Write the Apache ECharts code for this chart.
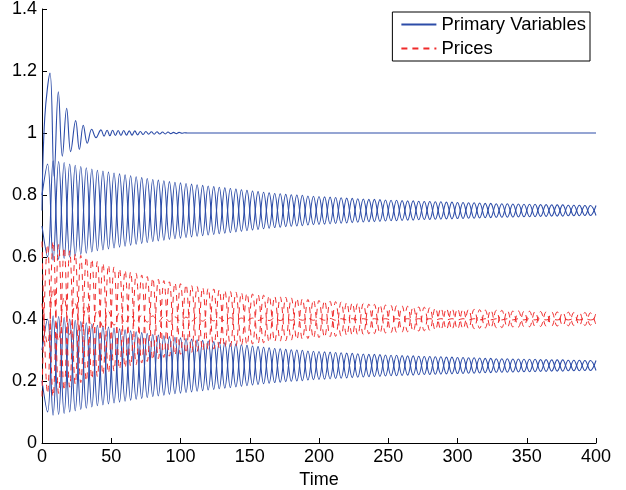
<!DOCTYPE html>
<html>
<head>
<meta charset="utf-8">
<script src="https://cdn.jsdelivr.net/npm/echarts@6/dist/echarts.min.js"></script>
<style>
  html, body { margin: 0; padding: 0; background: #fff; }
  #chart { width: 626px; height: 490px; }
</style>
</head>
<body>
<div id="chart"></div>
<script>
// sample spacing (time units) of the oscillating series
const STEP = 4;

// first primary variable, settles at 1
const b1Time = [0, 2, 5.8, 8.7, 11.8, 14.7, 17.8, 20.7, 24.3, 27, 29.8, 32.7, 35.9, 39, 42.6, 44.8,
  47, 49, 51, 53, 55, 57, 59, 61, 63, 65, 67, 69, 71, 73, 75, 77, 79, 81, 83, 85, 87, 89, 91, 93,
  95, 97, 99, 101, 103, 105, 120, 160, 200, 250, 300, 350, 400];
const b1Vals = [0.75, 1.05, 1.193, 0.86, 1.133, 0.925, 1.080, 0.94, 1.040, 0.947, 1.025, 0.967, 1.012, 0.985, 1.010, 0.990,
  1.009, 0.991, 1.009, 0.992, 1.008, 0.992, 1.008, 0.993, 1.007, 0.993, 1.007, 0.994, 1.005, 0.995, 1.005, 0.996, 1.004, 0.996, 1.004, 0.997, 1.003, 0.997, 1.003, 0.998,
  1.002, 0.998, 1.002, 0.999, 1.001, 1.0, 1.0, 1.0, 1.0, 1.0, 1.0, 1.0, 1.0];

// primary variables around 0.75
const topA = [0.70,
  0.600, 0.910, 0.592, 0.905, 0.600, 0.896, 0.608, 0.888, 0.616, 0.880,
  0.623, 0.874, 0.629, 0.868, 0.635, 0.862, 0.641, 0.856, 0.647, 0.850,
  0.652, 0.846, 0.657, 0.841, 0.661, 0.837, 0.665, 0.833, 0.669, 0.829,
  0.673, 0.825, 0.677, 0.821, 0.681, 0.817, 0.685, 0.813, 0.689, 0.809,
  0.693, 0.805, 0.696, 0.802, 0.699, 0.800, 0.701, 0.797, 0.704, 0.795,
  0.706, 0.793, 0.708, 0.791, 0.710, 0.789, 0.712, 0.787, 0.714, 0.786,
  0.715, 0.784, 0.717, 0.783, 0.718, 0.781, 0.719, 0.780, 0.721, 0.779,
  0.722, 0.778, 0.723, 0.777, 0.724, 0.776, 0.725, 0.775, 0.726, 0.773,
  0.727, 0.772, 0.728, 0.772, 0.729, 0.771, 0.730, 0.770, 0.730, 0.769,
  0.731, 0.768, 0.732, 0.768, 0.733, 0.767, 0.733, 0.766, 0.734, 0.766];
const topB = [0.80,
  0.900, 0.590, 0.908, 0.595, 0.900, 0.604, 0.892, 0.612, 0.884, 0.620,
  0.877, 0.626, 0.871, 0.632, 0.865, 0.638, 0.859, 0.644, 0.853, 0.650,
  0.848, 0.654, 0.843, 0.659, 0.839, 0.663, 0.835, 0.667, 0.831, 0.671,
  0.827, 0.675, 0.823, 0.679, 0.819, 0.683, 0.815, 0.687, 0.811, 0.691,
  0.807, 0.695, 0.804, 0.698, 0.801, 0.700, 0.799, 0.703, 0.796, 0.705,
  0.794, 0.707, 0.792, 0.709, 0.790, 0.711, 0.788, 0.713, 0.786, 0.714,
  0.785, 0.716, 0.783, 0.717, 0.782, 0.719, 0.781, 0.720, 0.779, 0.721,
  0.778, 0.722, 0.777, 0.723, 0.776, 0.724, 0.775, 0.725, 0.774, 0.727,
  0.773, 0.728, 0.772, 0.728, 0.771, 0.729, 0.770, 0.730, 0.770, 0.731,
  0.769, 0.732, 0.768, 0.732, 0.767, 0.733, 0.767, 0.734, 0.766, 0.734];

// primary variables around 0.25
const botA = [0.20,
  0.100, 0.410, 0.092, 0.405, 0.100, 0.396, 0.108, 0.388, 0.116, 0.380,
  0.123, 0.374, 0.129, 0.368, 0.135, 0.362, 0.141, 0.356, 0.147, 0.350,
  0.152, 0.346, 0.157, 0.341, 0.161, 0.337, 0.165, 0.333, 0.169, 0.329,
  0.173, 0.325, 0.177, 0.321, 0.181, 0.317, 0.185, 0.313, 0.189, 0.309,
  0.193, 0.305, 0.196, 0.302, 0.199, 0.300, 0.201, 0.297, 0.204, 0.295,
  0.206, 0.293, 0.208, 0.291, 0.210, 0.289, 0.212, 0.287, 0.214, 0.286,
  0.215, 0.284, 0.217, 0.283, 0.218, 0.281, 0.219, 0.280, 0.221, 0.279,
  0.222, 0.278, 0.223, 0.277, 0.224, 0.276, 0.225, 0.275, 0.226, 0.273,
  0.227, 0.272, 0.228, 0.272, 0.229, 0.271, 0.230, 0.270, 0.230, 0.269,
  0.231, 0.268, 0.232, 0.268, 0.233, 0.267, 0.233, 0.266, 0.234, 0.266];
const botB = [0.30,
  0.400, 0.090, 0.408, 0.095, 0.400, 0.104, 0.392, 0.112, 0.384, 0.120,
  0.377, 0.126, 0.371, 0.132, 0.365, 0.138, 0.359, 0.144, 0.353, 0.150,
  0.348, 0.154, 0.343, 0.159, 0.339, 0.163, 0.335, 0.167, 0.331, 0.171,
  0.327, 0.175, 0.323, 0.179, 0.319, 0.183, 0.315, 0.187, 0.311, 0.191,
  0.307, 0.195, 0.304, 0.198, 0.301, 0.200, 0.299, 0.203, 0.296, 0.205,
  0.294, 0.207, 0.292, 0.209, 0.290, 0.211, 0.288, 0.213, 0.286, 0.214,
  0.285, 0.216, 0.283, 0.217, 0.282, 0.219, 0.281, 0.220, 0.279, 0.221,
  0.278, 0.222, 0.277, 0.223, 0.276, 0.224, 0.275, 0.225, 0.274, 0.227,
  0.273, 0.228, 0.272, 0.228, 0.271, 0.229, 0.270, 0.230, 0.270, 0.231,
  0.269, 0.232, 0.268, 0.232, 0.267, 0.233, 0.267, 0.234, 0.266, 0.234];

// prices around 0.4
const redA = [0.15,
  0.640, 0.150, 0.640, 0.170, 0.620, 0.190, 0.605, 0.200, 0.593, 0.214,
  0.580, 0.226, 0.568, 0.238, 0.557, 0.248, 0.547, 0.258, 0.537, 0.268,
  0.528, 0.276, 0.520, 0.283, 0.514, 0.289, 0.508, 0.295, 0.502, 0.301,
  0.497, 0.306, 0.492, 0.311, 0.487, 0.315, 0.483, 0.319, 0.479, 0.323,
  0.475, 0.327, 0.471, 0.330, 0.468, 0.334, 0.465, 0.337, 0.462, 0.340,
  0.459, 0.343, 0.456, 0.345, 0.453, 0.348, 0.451, 0.350, 0.448, 0.353,
  0.446, 0.355, 0.444, 0.357, 0.442, 0.359, 0.440, 0.361, 0.438, 0.363,
  0.436, 0.365, 0.434, 0.366, 0.433, 0.368, 0.431, 0.369, 0.430, 0.371,
  0.429, 0.372, 0.428, 0.373, 0.426, 0.374, 0.425, 0.375, 0.424, 0.376,
  0.423, 0.377, 0.423, 0.378, 0.422, 0.379, 0.421, 0.379, 0.420, 0.380];
const redB = [0.65,
  0.160, 0.650, 0.160, 0.630, 0.180, 0.610, 0.195, 0.600, 0.207, 0.586,
  0.220, 0.574, 0.232, 0.562, 0.243, 0.552, 0.253, 0.542, 0.263, 0.532,
  0.272, 0.524, 0.280, 0.517, 0.286, 0.511, 0.292, 0.505, 0.298, 0.499,
  0.303, 0.494, 0.308, 0.489, 0.313, 0.485, 0.317, 0.481, 0.321, 0.477,
  0.325, 0.473, 0.329, 0.470, 0.332, 0.466, 0.335, 0.463, 0.338, 0.460,
  0.341, 0.457, 0.344, 0.455, 0.347, 0.452, 0.349, 0.450, 0.352, 0.447,
  0.354, 0.445, 0.356, 0.443, 0.358, 0.441, 0.360, 0.439, 0.362, 0.437,
  0.364, 0.435, 0.366, 0.434, 0.367, 0.432, 0.369, 0.431, 0.370, 0.429,
  0.371, 0.428, 0.372, 0.427, 0.374, 0.426, 0.375, 0.425, 0.376, 0.424,
  0.377, 0.423, 0.377, 0.422, 0.378, 0.421, 0.379, 0.421, 0.380, 0.420];
const redC = [0.45,
  0.32, 0.50, 0.33, 0.47, 0.35, 0.45, 0.36, 0.44, 0.37, 0.43,
  0.375, 0.425, 0.38, 0.42, 0.385, 0.415, 0.388, 0.412, 0.39, 0.41,
  0.391, 0.408, 0.392, 0.407, 0.392, 0.406, 0.393, 0.405, 0.393, 0.405,
  0.394, 0.404, 0.394, 0.404, 0.394, 0.403, 0.395, 0.403, 0.395, 0.403,
  0.395, 0.403, 0.395, 0.402, 0.396, 0.402, 0.396, 0.402, 0.396, 0.402,
  0.396, 0.402, 0.396, 0.401, 0.397, 0.401, 0.397, 0.401, 0.397, 0.401,
  0.397, 0.401, 0.397, 0.401, 0.397, 0.401, 0.397, 0.401, 0.397, 0.401,
  0.397, 0.401, 0.397, 0.401, 0.397, 0.401, 0.397, 0.401, 0.397, 0.401,
  0.397, 0.401, 0.397, 0.401, 0.397, 0.401, 0.397, 0.401, 0.397, 0.401,
  0.397, 0.401, 0.397, 0.401, 0.397, 0.401, 0.397, 0.401, 0.397, 0.401];

const BLUE = '#2c4ca8';
const RED = '#f02a2a';
const FONT = 'Liberation Sans';

function onGrid(vals) {
  return vals.map((v, i) => [i * STEP, v]);
}

function primary(data) {
  return {
    name: 'Primary Variables', type: 'line', data: data,
    symbol: 'none', smooth: 0.4, silent: true,
    lineStyle: { color: BLUE, width: 1.1 }, itemStyle: { color: BLUE }
  };
}

function price(data) {
  return {
    name: 'Prices', type: 'line', data: data,
    symbol: 'none', smooth: 0.4, silent: true,
    lineStyle: { color: RED, width: 1, type: [6, 5] }, itemStyle: { color: RED }
  };
}

let chart = echarts.init(document.getElementById('chart'), null, { renderer: 'canvas' });

const option = {
  animation: false,
  backgroundColor: '#fff',
  grid: { left: 42, right: 30, top: 9, bottom: 47, outerBoundsMode: 'none', containLabel: false },
  legend: {
    data: ['Primary Variables', 'Prices'],
    orient: 'vertical',
    right: 36, top: 12,
    itemWidth: 35, itemHeight: 10, itemGap: 5,
    padding: [3, 4, 3, 8],
    borderColor: '#000', borderWidth: 1,
    backgroundColor: '#fff',
    itemStyle: { opacity: 0 },
    textStyle: { fontFamily: FONT, fontSize: 18.5, color: '#000' }
  },
  xAxis: {
    type: 'value', min: 0, max: 400, interval: 50,
    name: 'Time', nameLocation: 'middle', nameGap: 27,
    nameTextStyle: { fontFamily: FONT, fontSize: 18, color: '#000' },
    axisLine: { lineStyle: { color: '#000', width: 1 } },
    axisTick: { inside: true, length: 5, lineStyle: { color: '#000' } },
    axisLabel: { fontFamily: FONT, fontSize: 18, color: '#000', margin: 5 },
    splitLine: { show: false }
  },
  yAxis: {
    type: 'value', min: 0, max: 1.4, interval: 0.2,
    axisLine: { show: true, lineStyle: { color: '#000', width: 1 } },
    axisTick: { show: true, inside: true, length: 5, lineStyle: { color: '#000' } },
    axisLabel: {
      fontFamily: FONT, fontSize: 18, color: '#000', margin: 5,
      formatter: v => String(+v.toFixed(1))
    },
    splitLine: { show: false }
  },
  series: [
    primary(b1Time.map((t, i) => [t, b1Vals[i]])),
    primary(onGrid(topA)),
    primary(onGrid(topB)),
    primary(onGrid(botA)),
    primary(onGrid(botB)),
    price(onGrid(redA)),
    price(onGrid(redB)),
    price(onGrid(redC))
  ]
};

chart.setOption(option);
</script>
</body>
</html>
